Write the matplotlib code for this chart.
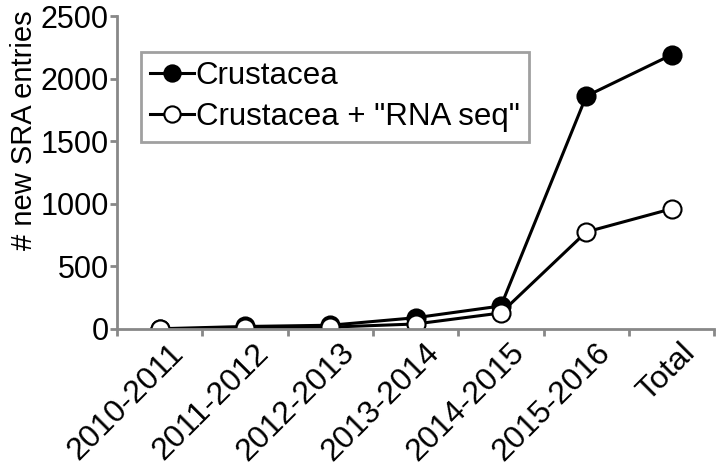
import matplotlib.pyplot as plt
import matplotlib.transforms as mtransforms
import numpy as np

plt.rcParams['font.family'] = ['Liberation Sans', 'DejaVu Sans']

periods = ['2010-2011', '2011-2012', '2012-2013', '2013-2014', '2014-2015', '2015-2016', 'Total']
crustacea = [2, 20, 30, 90, 184, 1860, 2190]
crustacea_rnaseq = [0, 8, 15, 40, 128, 775, 960]

fig = plt.figure(figsize=(7.2, 4.71), dpi=100)
ax = fig.add_axes([0.1625, 0.3015, 0.8295, 0.6645])

x = np.arange(len(periods))
ax.plot(x, crustacea, color='black', lw=2.2, marker='o', ms=13,
        mfc='black', mec='black', mew=1.5, label='Crustacea')
ax.plot(x, crustacea_rnaseq, color='black', lw=2.2, marker='o', ms=13,
        mfc='white', mec='black', mew=1.5, label='Crustacea + "RNA seq"')

ax.set_xlim(-0.5, len(periods) - 0.5)
ax.set_ylim(0, 2500)
ax.set_yticks([0, 500, 1000, 1500, 2000, 2500])
ax.set_xticks(x)
ax.set_xticklabels(periods, rotation=45, ha='right', va='center', rotation_mode='anchor')
ax.set_xticks(np.arange(len(periods) + 1) - 0.5, minor=True)
ax.tick_params(axis='x', which='major', length=0, labelsize=23, pad=14)
ax.tick_params(axis='x', which='minor', length=5, width=2, color='#888888', direction='out')
ax.tick_params(axis='y', length=5, width=2, color='#888888', labelsize=22, pad=1)
ax.set_ylabel('# new SRA entries', fontsize=21)
ax.yaxis.set_label_coords(-0.132, 0.636)

# nudge rotated labels right so their ends sit near the points
shift = mtransforms.ScaledTranslation(14 / 72, 0, fig.dpi_scale_trans)
for lbl in ax.get_xticklabels():
    lbl.set_transform(lbl.get_transform() + shift)

for s in ['top', 'right']:
    ax.spines[s].set_visible(False)
for s in ['left', 'bottom']:
    ax.spines[s].set_color('#888888')
    ax.spines[s].set_linewidth(2)

leg = ax.legend(loc='upper left', bbox_to_anchor=(0.04, 0.885), borderaxespad=0,
                fontsize=22.5, frameon=True, fancybox=False, edgecolor='#888888',
                markerscale=0.9, handlelength=1.4, handletextpad=0.05,
                borderpad=0.3, labelspacing=0.35)
leg.get_frame().set_linewidth(2)

fig.savefig('out.png', dpi=100)
